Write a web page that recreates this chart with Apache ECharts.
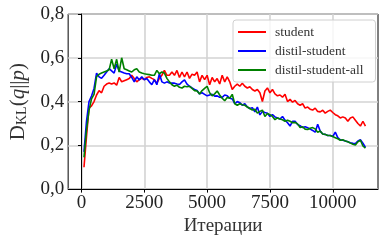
<!DOCTYPE html>
<html>
<head>
<meta charset="utf-8">
<script src="https://cdn.jsdelivr.net/npm/echarts@6/dist/echarts.min.js"></script>
<style>html,body{margin:0;padding:0;background:#fff}#c{width:379px;height:241px}</style>
</head>
<body>
<div id="c"></div>
<script>
var iterations = [100,200,300,400,500,600,700,800,900,1000,1100,1200,1300,1400,1500,1600,1700,1800,1900,2000,2100,2200,2300,2400,2500,2600,2700,2800,2900,3000,3100,3200,3300,3400,3500,3600,3700,3800,3900,4000,4100,4200,4300,4400,4500,4600,4700,4800,4900,5000,5100,5200,5300,5400,5500,5600,5700,5800,5900,6000,6100,6200,6300,6400,6500,6600,6700,6800,6900,7000,7100,7200,7300,7400,7500,7600,7700,7800,7900,8000,8100,8200,8300,8400,8500,8600,8700,8800,8900,9000,9100,9200,9300,9400,9500,9600,9700,9800,9900,10000,10100,10200,10300,10400,10500,10600,10700,10800,10900,11000,11100,11200,11300];

var student = [0.10,0.24,0.37,0.38,0.40,0.43,0.45,0.44,0.47,0.48,0.485,0.48,0.485,0.475,0.51,0.49,0.495,0.50,0.505,0.52,0.505,0.49,0.50,0.506,0.50,0.51,0.513,0.506,0.50,0.484,0.506,0.52,0.542,0.52,0.52,0.535,0.52,0.542,0.51,0.535,0.513,0.535,0.506,0.525,0.52,0.535,0.49,0.52,0.50,0.52,0.477,0.51,0.49,0.505,0.48,0.52,0.49,0.513,0.49,0.455,0.47,0.48,0.47,0.484,0.47,0.462,0.468,0.455,0.448,0.455,0.44,0.40,0.448,0.462,0.44,0.455,0.435,0.426,0.43,0.42,0.433,0.40,0.41,0.397,0.405,0.39,0.383,0.39,0.37,0.375,0.365,0.361,0.37,0.355,0.353,0.36,0.347,0.355,0.361,0.35,0.34,0.335,0.325,0.33,0.325,0.31,0.325,0.33,0.315,0.30,0.288,0.31,0.288];

var distilStudent = [0.17,0.31,0.40,0.425,0.46,0.53,0.513,0.506,0.52,0.535,0.55,0.54,0.53,0.57,0.54,0.535,0.53,0.527,0.527,0.51,0.49,0.513,0.499,0.513,0.50,0.505,0.49,0.477,0.50,0.477,0.527,0.49,0.484,0.49,0.485,0.484,0.484,0.48,0.478,0.49,0.499,0.48,0.47,0.462,0.455,0.45,0.435,0.44,0.433,0.426,0.43,0.433,0.425,0.426,0.42,0.419,0.43,0.426,0.415,0.412,0.39,0.40,0.395,0.383,0.39,0.375,0.368,0.372,0.353,0.375,0.339,0.355,0.35,0.347,0.332,0.34,0.33,0.325,0.32,0.332,0.315,0.303,0.288,0.31,0.31,0.295,0.29,0.281,0.285,0.28,0.274,0.268,0.26,0.296,0.265,0.252,0.25,0.245,0.245,0.24,0.26,0.235,0.225,0.223,0.22,0.216,0.212,0.209,0.208,0.22,0.225,0.21,0.19];

var distilStudentAll = [0.145,0.27,0.36,0.412,0.433,0.513,0.525,0.53,0.535,0.54,0.545,0.593,0.55,0.593,0.535,0.60,0.55,0.545,0.54,0.535,0.545,0.55,0.535,0.53,0.527,0.525,0.523,0.52,0.52,0.542,0.527,0.535,0.53,0.506,0.49,0.477,0.47,0.475,0.465,0.462,0.47,0.468,0.47,0.46,0.45,0.448,0.435,0.45,0.46,0.47,0.44,0.426,0.435,0.448,0.43,0.415,0.404,0.419,0.415,0.433,0.39,0.383,0.39,0.385,0.383,0.375,0.368,0.361,0.365,0.347,0.355,0.361,0.332,0.345,0.34,0.332,0.317,0.325,0.32,0.317,0.31,0.315,0.31,0.303,0.305,0.298,0.281,0.285,0.274,0.272,0.278,0.281,0.275,0.26,0.265,0.252,0.25,0.245,0.245,0.24,0.235,0.23,0.223,0.225,0.22,0.216,0.21,0.205,0.201,0.216,0.223,0.197,0.187];

var xTicks = [0,2500,5000,7500,10000];
var seriesNames = ['student','distil-student','distil-student-all'];
var seriesColors = ['#ff0000','#0000ff','#008000'];

function pairs(ys){ return ys.map(function(v,i){ return [iterations[i], v]; }); }

var serif = 'Liberation Serif';
var chart = echarts.init(document.getElementById('c'), null, {renderer:'canvas'});
var allData = [student, distilStudent, distilStudentAll];
chart.setOption({
  animation:false,
  backgroundColor:'#fff',
  grid:{left:63, top:14, right:1, bottom:43, show:true, borderColor:'#000', borderWidth:1, backgroundColor:'transparent'},
  legend:{
    orient:'vertical', left:233, top:20, padding:[5,12,5,5], itemGap:5,
    itemWidth:28, itemHeight:14,
    backgroundColor:'rgba(255,255,255,0.8)', borderColor:'#d0d0d0', borderWidth:1, borderRadius:3,
    icon:'path://M0 0h28v2H0z',
    textStyle:{fontFamily:serif, fontSize:13.5, color:'#333', padding:[0,0,0,4]},
    data: seriesNames
  },
  xAxis:{
    type:'value', min:-530, max:11800,
    name:'Итерации', nameLocation:'middle', nameGap:19,
    nameTextStyle:{fontFamily:serif, fontSize:19, color:'#333'},
    axisLine:{show:true, lineStyle:{color:'#000', width:1}},
    axisTick:{show:true, inside:false, length:3.5, lineStyle:{color:'#000'}, customValues:xTicks},
    axisLabel:{fontFamily:serif, fontSize:19, color:'#222', margin:4, customValues:xTicks,
      formatter:function(v){return String(v);}},
    splitLine:{show:true, lineStyle:{color:'#d3d3d3', width:1.6}}
  },
  yAxis:{
    type:'value', min:0, max:0.8, interval:0.2,
    name:'{r|D}{s|KL}{r|(}{i|q}{r|||}{i|p}{r|)}', nameLocation:'middle', nameGap:38, nameRotate:90,
    nameTextStyle:{fontFamily:serif, color:'#333', rich:{
      r:{fontFamily:serif, fontSize:21, color:'#333'},
      i:{fontFamily:serif, fontSize:21, fontStyle:'italic', color:'#333'},
      s:{fontFamily:serif, fontSize:14, color:'#333', verticalAlign:'bottom', padding:[8,0,0,0]}
    }},
    axisLine:{show:true, lineStyle:{color:'#000', width:1}},
    axisTick:{show:true, inside:false, length:3.5, lineStyle:{color:'#000'}},
    axisLabel:{fontFamily:serif, fontSize:19, color:'#222', margin:4,
      formatter:function(v){return v.toFixed(1).replace('.',',');}},
    splitLine:{show:true, lineStyle:{color:'#d3d3d3', width:1.6}}
  },
  series: allData.map(function(d,k){
    return {
      name:seriesNames[k], type:'line', data:pairs(d), symbol:'none', showSymbol:false,
      lineStyle:{color:seriesColors[k], width:1.6}, itemStyle:{color:seriesColors[k]}, z:2+k
    };
  })
});
</script>
</body>
</html>
